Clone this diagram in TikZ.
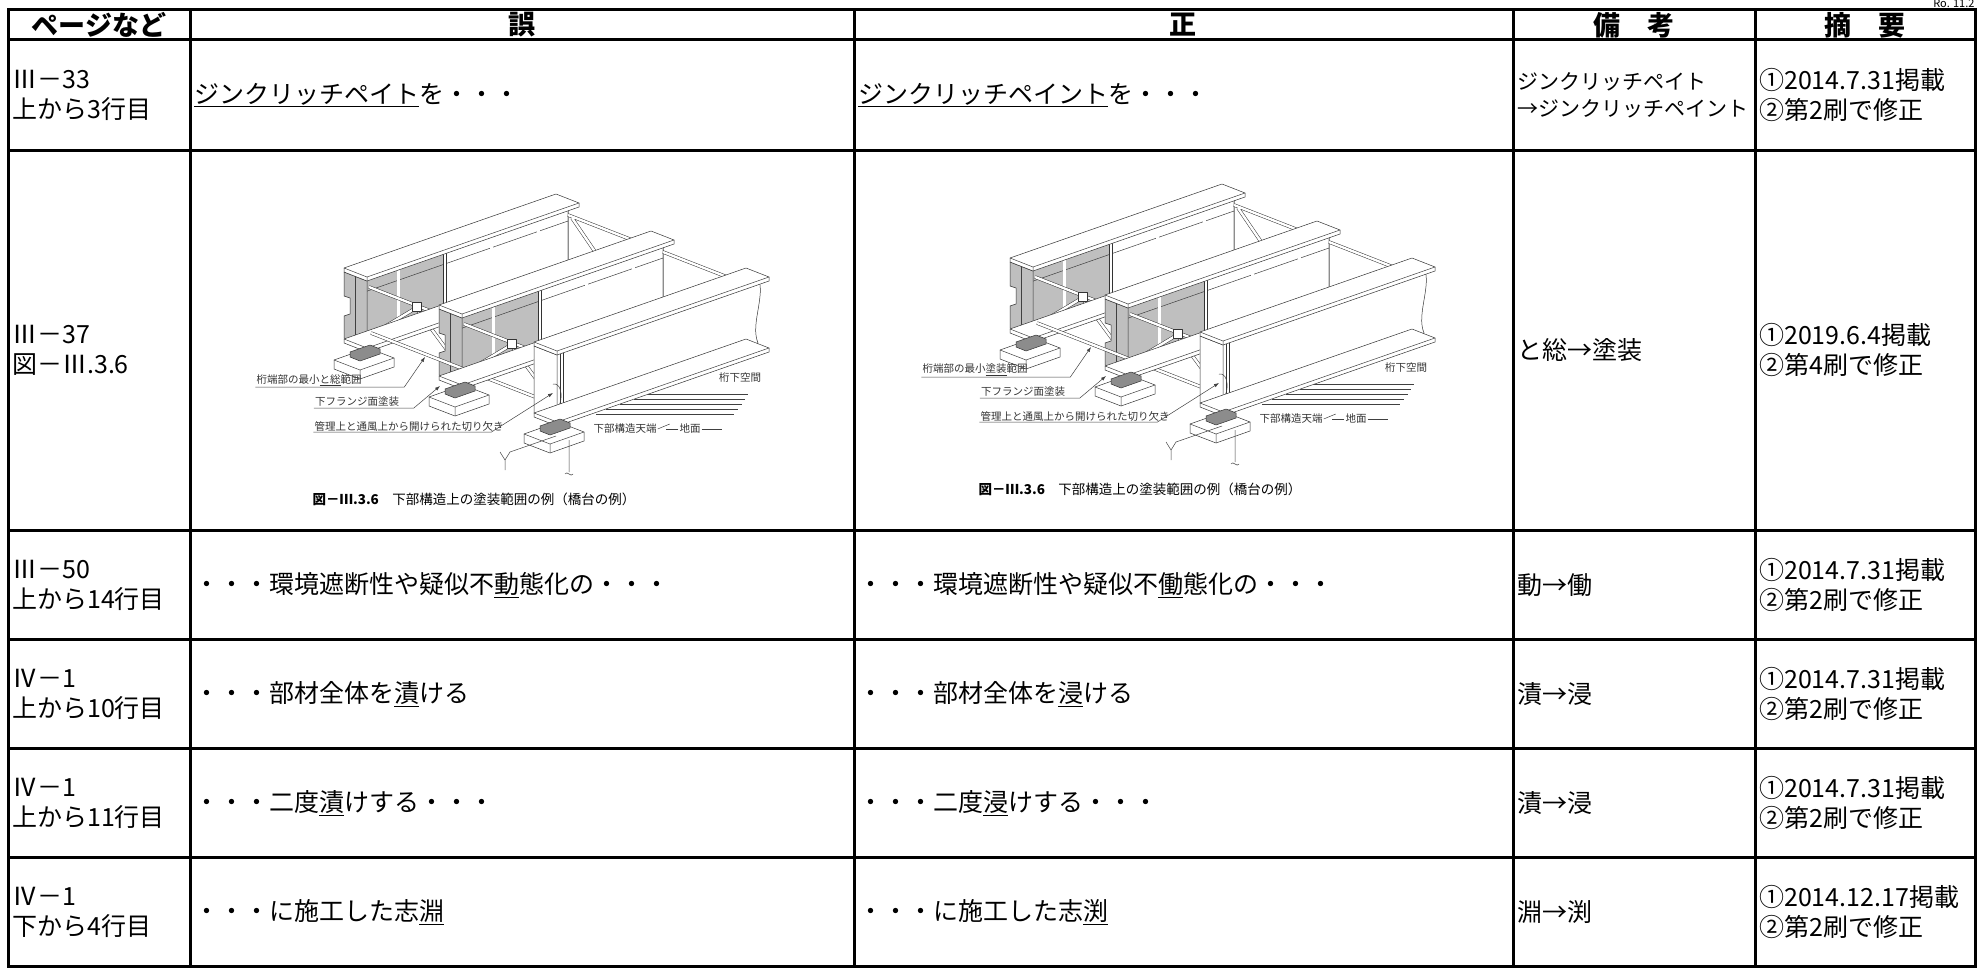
\documentclass[tikz,border=0pt]{standalone}
\usepackage{fontspec}
\setmainfont{Noto Sans CJK JP}
\usetikzlibrary{arrows.meta,calc}

\begin{document}
\begin{tikzpicture}[
  x=1pt, y=-1pt,
  rule/.style={line width=3pt},
  head/.style={inner sep=0pt, font=\fontsize{27}{30}\selectfont\bfseries},
  cell/.style={anchor=west, align=left, inner sep=0pt, font=\fontsize{25}{30}\selectfont},
  tag/.style={inner sep=1pt, text=black!80, font=\fontsize{10.5}{12}\selectfont},
  part/.style={draw=black!80, line width=0.5pt, fill=white, line join=round},
  lead/.style={draw=black!75, line width=0.5pt},
  bar/.style={draw=black!80, line width=0.5pt, double=white, double distance=2.4pt},
  tip/.style={-{Latex[length=5pt,width=3.5pt]}},
  flange/.pic={
    \draw[part] (0,0) -- (212,-74) -- (235,-65) -- (235,-61) -- (23,13) -- (0,4) -- cycle;
    \draw[lead] (0,0) -- (23,9) -- (235,-65) (23,9) -- (23,13);
  },
  web/.pic={
    \draw[part] (0,0) -- (212,-74) -- (212,-8) -- (0,66) -- cycle;
    \fill[black!25] (0,0) -- (89,-31) -- (89,35) -- (0,66) -- cycle;
    \draw[lead] (0,0) -- (212,-74) -- (212,-8) -- (0,66) -- cycle (0,18) -- (212,-56);
    \foreach \u in {0,.2,.42,.64,.86} \draw[bar] (\u*212,-\u*74) -- ++(0,66);
  },
  endplate/.pic={
    \draw[part, fill=black!25] (0,0) -- (23,9) -- (23,75) -- (0,66) -- (0,44) -- (6,42) -- (6,26) -- (0,24) -- cycle;
    \draw[lead] (11,4) -- (11,70);
  },
  seat/.pic={
    \draw[part] (-22,12) -- (12,0) -- (38,10) -- (38,19) -- (4,31) -- (-22,21) -- cycle;
    \draw[lead] (-22,12) -- (4,22) -- (38,10) (4,22) -- (4,31);
    \draw[part,fill=black!45] (-6,4) -- (14,-3) -- (24,1) -- (24,6) -- (4,13) -- (-6,9) -- cycle;
  }
]
\useasboundingbox (0,0) rectangle (1980,971);

\foreach \dx/\dy/\fix/\s in {0/0/と総/L,666/-10/塗装/R}{
\begin{scope}[shift={(\dx,\dy)}]
\pic at (356,277) {web};
\pic at (344,272) {endplate};
\draw[bar] (369,287) -- (464,324) (416,308) -- (369,336) (416,308) -- (464,373) (568,215) -- (663,252) (572,218) -- (602,262);
\draw[part] (412,302) rectangle (421,311);
\pic at (344,339) {flange};
\pic at (344,268) {flange};
\pic at (451,314) {web};
\pic at (439,309) {endplate};
\draw[bar] (371,333) -- (561,407) (464,324) -- (559,361) (511,345) -- (464,373) (511,345) -- (559,410) (663,252) -- (758,289);
\draw[part] (507,339) rectangle (516,348);
\pic at (439,376) {flange};
\pic at (439,305) {flange};
\foreach \yy/\xa/\xb in {394/648/748,399/634/745,404/620/742,409/606/738,414/596/734}
  \draw[lead] (\xa,\yy) -- (\xb,\yy);
\draw[part] (546,351) -- (758,277) .. controls (766,296) and (750,324) .. (758,343) -- (546,417) -- cycle;
\draw[part] (534,346) -- (557,355) -- (557,422) -- (534,413) -- cycle;
\draw[bar] (562,350) -- ++(0,66);
\draw[lead] (553,384) .. controls (563,382) and (564,404) .. (555,411);
\pic at (534,413) {flange};
\pic at (534,342) {flange};
\pic at (356,348) {seat};
\pic at (451,385) {seat};
\pic at (546,422) {seat};

\node[tag] (lo\s) at (309,380) {桁端部の最小\underline{\fix}範囲};
\node[tag] (lf\s) at (357,402) {下フランジ面塗装};
\node[tag] (lk\s) at (409,426) {管理上と通風上から開けられた切り欠き};
\node[tag] (lt\s) at (625,429) {下部構造天端};
\node[tag] (lg\s) at (690,429) {地面};
\node[tag] (lu\s) at (740,378) {桁下空間};
\coordinate (ao\s) at (425,357);
\coordinate (af\s) at (440,386);
\coordinate (ak\s) at (553,393);
\draw[lead,tip] (lo\s.south west) -- ++(149,0) -- (ao\s);
\draw[lead,tip] (lf\s.south west) -- ++(100,0) -- (af\s);
\draw[lead,tip] (lk\s.south west) -- ++(178,0) -- (ak\s);
\draw[lead] (lt\s.east) -- ++(12,-5);
\draw[lead] (lg\s.west) -- ++(-12,0) (lg\s.east) -- ++(20,0);
\draw[lead] (569,440) -- (569,472) (565,474) .. controls (567,470) and (571,478) .. (573,474);
\draw[lead] (500,452) -- (505,460) -- (510,452) (505,460) -- (505,470) (510,452) -- (556,436);
\node[font=\fontsize{13.5}{15}\selectfont] (cap\s) at (474,499) {\textbf{図－Ⅲ.3.6}\quad 下部構造上の塗装範囲の例（橋台の例）};
\end{scope}}

\node[anchor=base east, font=\fontsize{11}{11}\selectfont] (no) at (1978,8) {Ro. 11.2};

\node[head] (h1) at (99,25) {ページなど};
\node[head] (h2) at (522,25) {誤};
\node[head] (h3) at (1183,25) {正};
\node[head] (h4) at (1634,25) {備　考};
\node[head] (h5) at (1865,25) {摘　要};

\node[cell] (pg1) at (12,95) {Ⅲ－33\\上から3行目};
\node[cell] (wr1) at (194,95) {\underline{ジンクリッチペイト}を・・・};
\node[cell] (rt1) at (858,95) {\underline{ジンクリッチペイント}を・・・};
\node[cell, font=\fontsize{21}{27}\selectfont] (nt1) at (1517,95) {ジンクリッチペイト\\→ジンクリッチペイント};
\node[cell] (sm1) at (1759,95) {①2014.7.31掲載\\②第2刷で修正};

\node[cell] (pg2) at (12,350) {Ⅲ－37\\図－Ⅲ.3.6};
\node[cell] (nt2) at (1517,350) {と総→塗装};
\node[cell] (sm2) at (1759,350) {①2019.6.4掲載\\②第4刷で修正};

\node[cell] (pg3) at (12,585) {Ⅲ－50\\上から14行目};
\node[cell] (wr3) at (194,585) {・・・環境遮断性や疑似不\underline{動}態化の・・・};
\node[cell] (rt3) at (858,585) {・・・環境遮断性や疑似不\underline{働}態化の・・・};
\node[cell] (nt3) at (1517,585) {動→働};
\node[cell] (sm3) at (1759,585) {①2014.7.31掲載\\②第2刷で修正};

\node[cell] (pg4) at (12,694) {Ⅳ－1\\上から10行目};
\node[cell] (wr4) at (194,694) {・・・部材全体を\underline{漬}ける};
\node[cell] (rt4) at (858,694) {・・・部材全体を\underline{浸}ける};
\node[cell] (nt4) at (1517,694) {漬→浸};
\node[cell] (sm4) at (1759,694) {①2014.7.31掲載\\②第2刷で修正};

\node[cell] (pg5) at (12,803) {Ⅳ－1\\上から11行目};
\node[cell] (wr5) at (194,803) {・・・二度\underline{漬}けする・・・};
\node[cell] (rt5) at (858,803) {・・・二度\underline{浸}けする・・・};
\node[cell] (nt5) at (1517,803) {漬→浸};
\node[cell] (sm5) at (1759,803) {①2014.7.31掲載\\②第2刷で修正};

\node[cell] (pg6) at (12,912) {Ⅳ－1\\下から4行目};
\node[cell] (wr6) at (194,912) {・・・に施工した志\underline{淵}};
\node[cell] (rt6) at (858,912) {・・・に施工した志\underline{渕}};
\node[cell] (nt6) at (1517,912) {淵→渕};
\node[cell] (sm6) at (1759,912) {①2014.12.17掲載\\②第2刷で修正};

\foreach \yy in {40,150,530,639,748,857}
  \draw[rule] (8,\yy) -- (1975,\yy);
\foreach \xx in {190,854,1513,1755}
  \draw[rule] (\xx,10) -- (\xx,966);
\draw[rule] (8,10) rectangle (1975,966);
\end{tikzpicture}
\end{document}
